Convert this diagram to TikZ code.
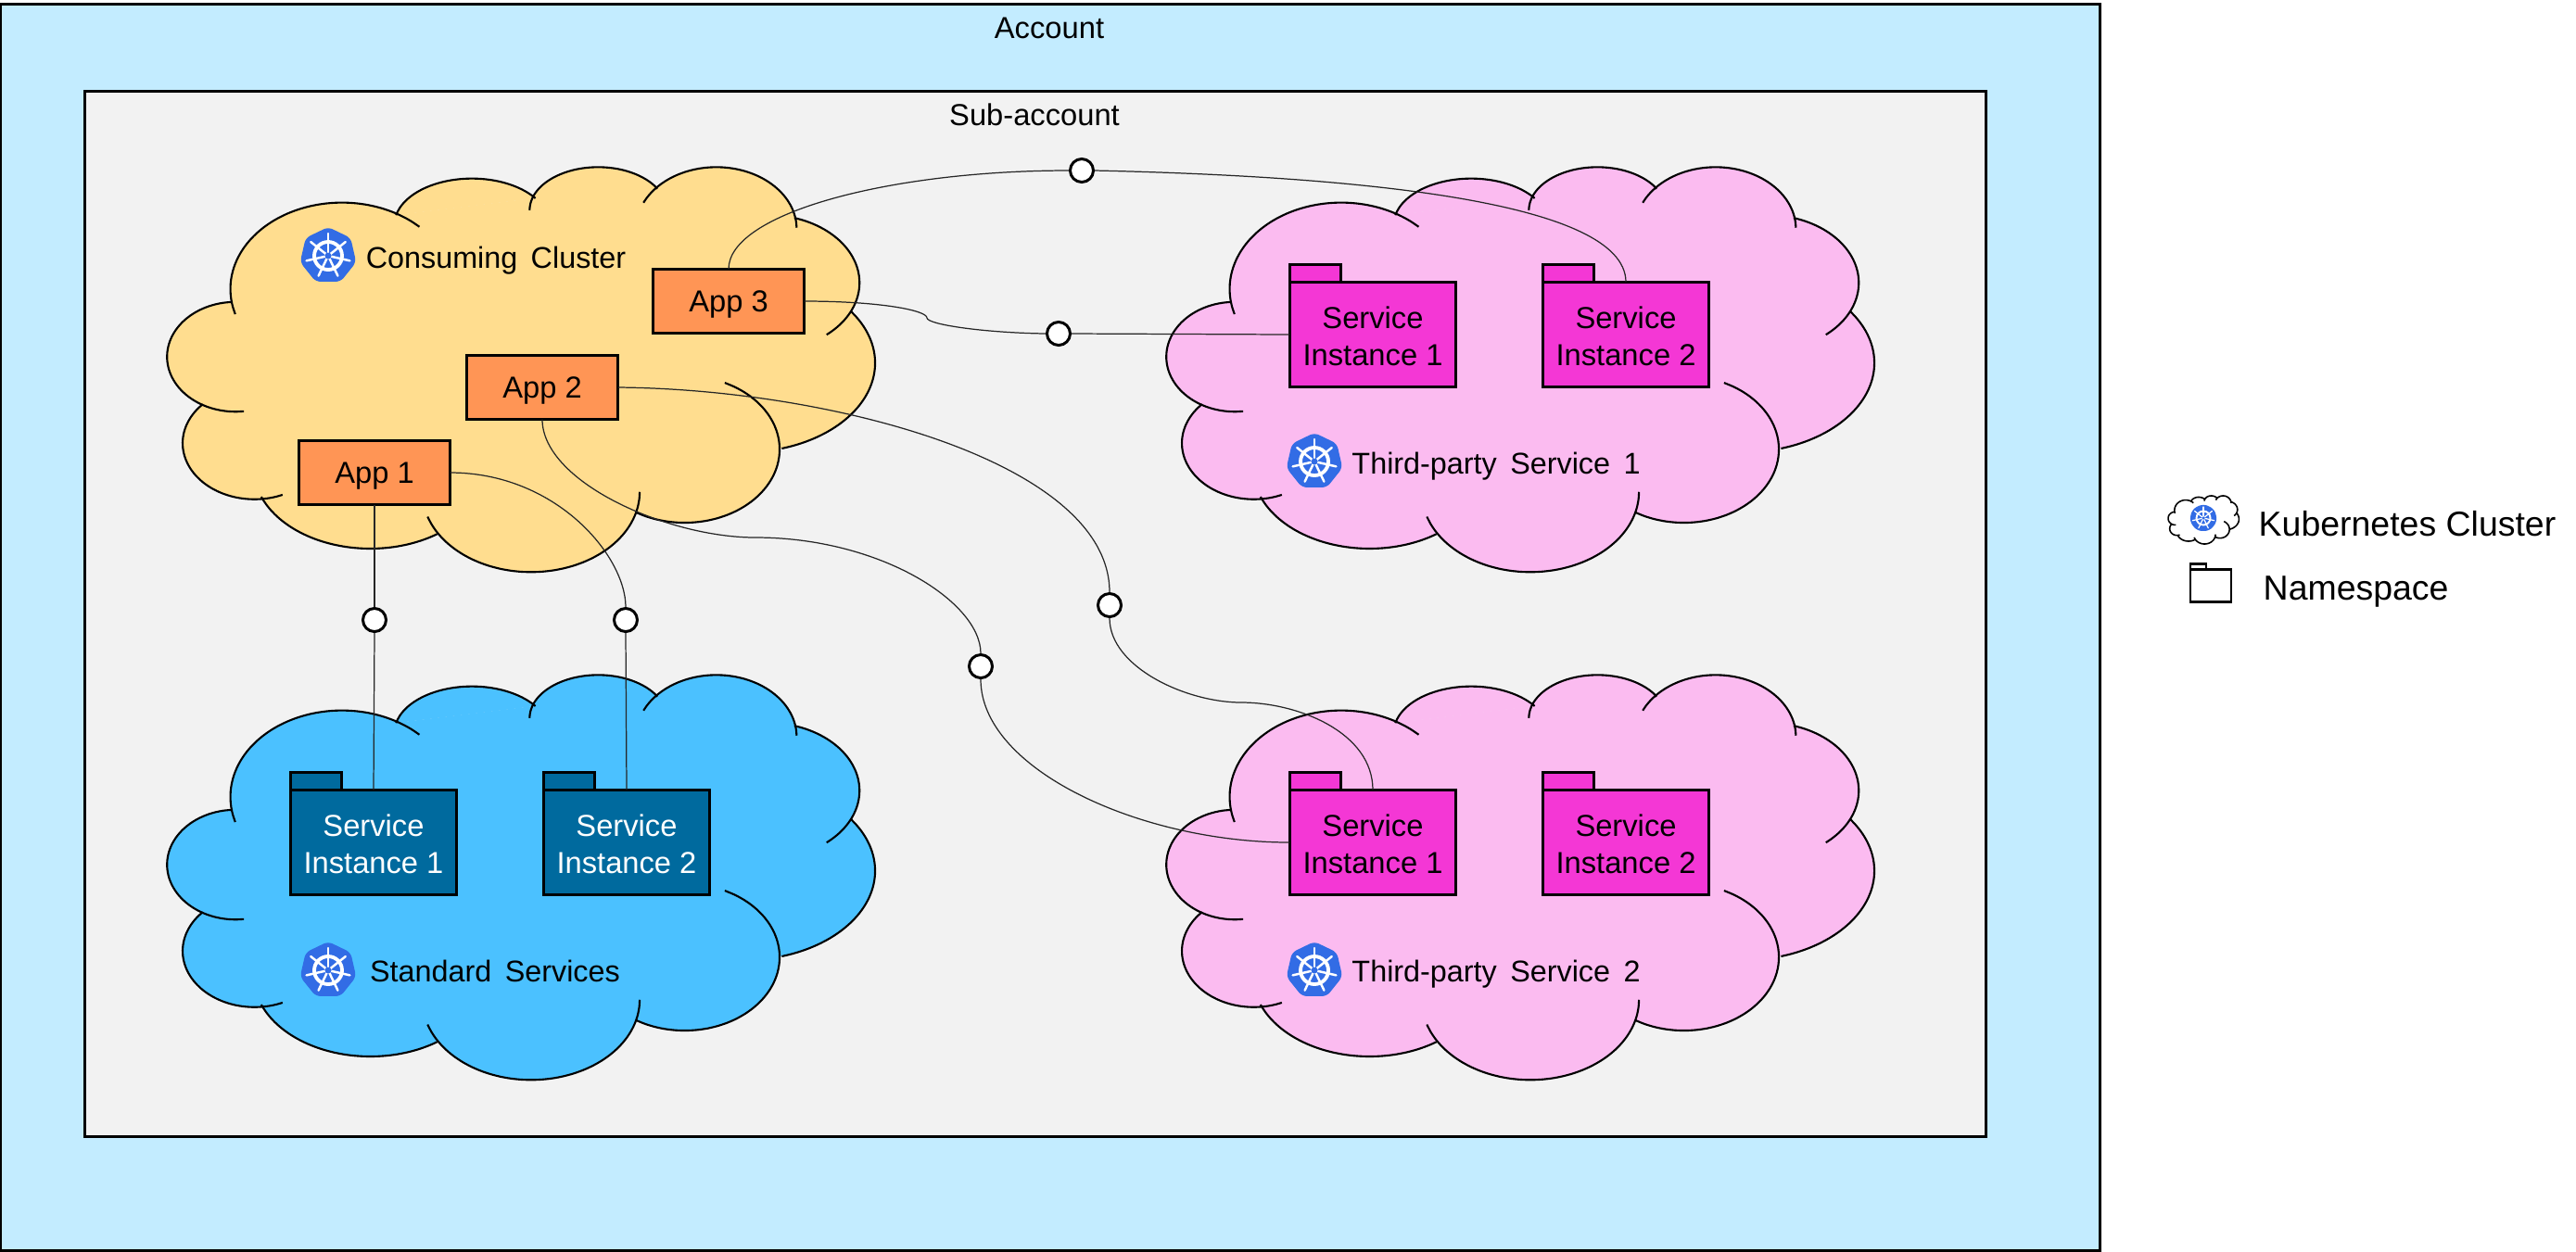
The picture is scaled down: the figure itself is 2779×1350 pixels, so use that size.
\documentclass[tikz,border=0pt]{standalone}
\usepackage{fontspec}
\setmainfont{Liberation Sans}
\newfontfamily\cloudfont[WordSpace=1.6]{Liberation Sans}
\usetikzlibrary{positioning}
\definecolor{accountblue}{HTML}{C3ECFF}
\definecolor{subgrey}{HTML}{F2F2F2}
\definecolor{consumeyellow}{HTML}{FFDD8F}
\definecolor{appsorange}{HTML}{FF9555}
\definecolor{stdblue}{HTML}{4BC1FF}
\definecolor{stddark}{HTML}{006A9E}
\definecolor{tppink}{HTML}{FBBBF0}
\definecolor{tpmagenta}{HTML}{F437D5}
\definecolor{kubeblue}{HTML}{326CE5}

% centre x, centre y, radius x, radius y, first angle, last angle
\newcommand{\lobefill}[6]{\fill plot[domain=#5:#6, samples=30, smooth] ({#1+#3*cos(\x)},{#2+#4*sin(\x)});}
\newcommand{\lobeline}[6]{\draw plot[domain=#5:#6, samples=30, smooth] ({#1+#3*cos(\x)},{#2+#4*sin(\x)});}
\newcommand{\cloudlobes}[1]{%
  #1{390}{420}{236}{280}{163}{314}
  #1{665}{212}{164}{150}{192}{325}
  #1{932}{165}{145}{140}{180}{330}
  #1{1182}{225}{170}{200}{205}{359}
  #1{1290}{400}{195}{220}{287}{410}
  #1{1239}{660}{279}{290}{325}{433}
  #1{1115}{940}{201}{238}{295}{481}
  #1{790}{1078}{230}{260}{0}{162}
  #1{450}{1000}{247}{262}{55}{159}
  #1{205}{920}{152}{182}{67}{224}
  #1{165}{640}{145}{178}{83}{266}
}

\tikzset{
  cloudy/.pic={
    \begin{scope}[x=.0051cm, y=-.00333cm, fill=#1]
      \cloudlobes\lobefill
      \fill (155,462) -- (300,300) -- (505,180) -- (665,150) -- (800,125) -- (935,110) -- (1055,95)
        -- (1200,120) -- (1348,190) -- (1420,300) -- (1470,490) -- (1490,700) -- (1318,938)
        -- (1200,1080) -- (1010,1145) -- (790,1250) -- (593,1215) -- (400,1200) -- (220,1095)
        -- (110,950) -- (97,795) -- (60,640) -- cycle;
      \cloudlobes\lobeline
    \end{scope}
  },
  kube/.pic={
    \fill[kubeblue, rounded corners=1.5pt] (270:31) -- (321.43:31) -- (12.86:31) -- (64.29:31)
      -- (115.71:31) -- (167.14:31) -- (218.57:31) -- cycle;
    \draw[white, line width=#1*1.1pt] (0,0) circle (15);
    \foreach \a in {270,321.43,12.86,64.29,115.71,167.14,218.57}
      \draw[white, line width=#1*.7pt, line cap=round] (\a:3) -- (\a:24);
    \fill[kubeblue] (0,0) circle (3.5);
  },
  cloudline/.style={line width=.6pt},
  labeltext/.style={font=\fontsize{9.3}{11.4}\selectfont},
  cloudtext/.style={font=\cloudfont\fontsize{9.2}{11.4}\selectfont, inner sep=0pt, text depth=0pt},
  legendtext/.style={font=\fontsize{10.65}{12}\selectfont, inner sep=0pt, text depth=0pt, anchor=west},
  framebox/.style={draw, line width=.85pt},
  appbox/.style={draw, line width=1pt, fill=appsorange, minimum width=1.63cm, minimum height=.69cm,
    inner sep=0pt, outer sep=0pt, text depth=0pt, labeltext},
  folderbody/.style={draw, line width=1pt, minimum width=1.79cm, minimum height=1.13cm,
    inner sep=0pt, outer sep=0pt, align=center, text height=19pt, labeltext},
  foldertab/.style={draw, line width=1pt, minimum width=.55cm, minimum height=.19cm,
    inner sep=0pt, outer sep=0pt, anchor=south west},
  std/.style={fill=stddark, text=white},
  tp/.style={fill=tpmagenta},
  plug/.style={circle, draw, fill=white, line width=.85pt, minimum size=.25cm, inner sep=0pt},
  link/.style={line width=.35pt, black!85},
}

\begin{document}
\begin{tikzpicture}[x=.01cm, y=-.01cm]
    \useasboundingbox (0,0) rectangle (2779,1350);

    % account and sub-account
    \draw[framebox, fill=accountblue] (.5,4.5) rectangle (2265,1349.5);
    \draw[framebox, fill=subgrey] (91.5,98.5) rectangle (2142.5,1226.5);
    \node[labeltext] (account) at (1132,30) {Account};
    \node[labeltext] (subaccount) at (1116,124) {Sub-account};

    % clouds
    \pic[cloudline] at (170,172) {cloudy=consumeyellow};
    \pic[cloudline] at (170,720) {cloudy=stdblue};
    \pic[cloudline] at (1248,172) {cloudy=tppink};
    \pic[cloudline] at (1248,720) {cloudy=tppink};

    \pic at (354,276) {kube=1};
    \pic at (354,1047) {kube=1};
    \pic at (1418,498) {kube=1};
    \pic at (1418,1047) {kube=1};

    \node[cloudtext] (consuming) at (535,278) {Consuming Cluster};
    \node[cloudtext] (standard) at (534,1048) {Standard Services};
    \node[cloudtext] (tpone) at (1614,500) {Third-party Service 1};
    \node[cloudtext] (tptwo) at (1614,1048) {Third-party Service 2};

    % apps
    \node[appbox] (app3) at (786,325) {App 3};
    \node[appbox] (app2) at (585,418) {App 2};
    \node[appbox] (app1) at (404,510) {App 1};

    % service instances
    \node[folderbody, std] (stdone) at (403,909) {Service\\Instance 1};
    \node[folderbody, std] (stdtwo) at (676,909) {Service\\Instance 2};
    \node[folderbody, tp] (tpaone) at (1481,361) {Service\\Instance 1};
    \node[folderbody, tp] (tpatwo) at (1754,361) {Service\\Instance 2};
    \node[folderbody, tp] (tpbone) at (1481,909) {Service\\Instance 1};
    \node[folderbody, tp] (tpbtwo) at (1754,909) {Service\\Instance 2};

    \node[foldertab, std] (stdonetab) at (stdone.north west) {};
    \node[foldertab, std] (stdtwotab) at (stdtwo.north west) {};
    \node[foldertab, tp] (tpaonetab) at (tpaone.north west) {};
    \node[foldertab, tp] (tpatwotab) at (tpatwo.north west) {};
    \node[foldertab, tp] (tpbonetab) at (tpbone.north west) {};
    \node[foldertab, tp] (tpbtwotab) at (tpbtwo.north west) {};

    % plugs on the links
    \node[plug] (plugtop) at (1167,184) {};
    \node[plug] (plugmid) at (1142,360) {};
    \node[plug] (plugstdone) at (404,669) {};
    \node[plug] (plugstdtwo) at (675,669) {};
    \node[plug] (plugtwoa) at (1197,653) {};
    \node[plug] (plugtwob) at (1058,719) {};

    % links
    \draw[link] (app3.north) .. controls (786,230) and (960,184) .. (plugtop.west);
    \draw[link] (plugtop.east) .. controls (1450,190) and (1754,215) .. (tpatwo.north);
    \draw[link] (app3.east) .. controls (950,325) and (1000,335) .. (1000,343)
      .. controls (1000,350) and (1060,359) .. (plugmid.west);
    \draw[link] (plugmid.east) -- (tpaone.west);
    \draw[link] (app1.south) -- (plugstdone.north);
    \draw[link] (plugstdone.south) -- (stdone.north);
    \draw[link] (app1.east) .. controls (600,510) and (675,600) .. (plugstdtwo.north);
    \draw[link] (plugstdtwo.south) -- (stdtwo.north);
    \draw[link] (app2.east) .. controls (900,420) and (1197,500) .. (plugtwoa.north);
    \draw[link] (plugtwoa.south) .. controls (1197,720) and (1280,758) .. (1339,758)
      .. controls (1400,758) and (1481,790) .. (tpbone.north);
    \draw[link] (app2.south) .. controls (585,520) and (720,580) .. (815,580)
      .. controls (950,580) and (1058,650) .. (plugtwob.north);
    \draw[link] (plugtwob.south) .. controls (1058,830) and (1230,909) .. (tpbone.west);

    % legend
    \pic[xscale=.1, yscale=.119, line width=.45pt] at (2338,534) {cloudy=white};
    \pic[scale=.5] at (2377,559) {kube=.5};
    \node[legendtext] (legendcluster) at (2436,565) {Kubernetes Cluster};
    \node[draw, line width=.6pt, minimum width=.44cm, minimum height=.35cm, inner sep=0pt, outer sep=0pt] (legendbody) at (2385,632) {};
    \node[draw, line width=.6pt, minimum width=.17cm, minimum height=.06cm, inner sep=0pt, outer sep=0pt, anchor=south west] (legendtab) at (legendbody.north west) {};
    \node[legendtext] (legendns) at (2441,635) {Namespace};
\end{tikzpicture}
\end{document}
